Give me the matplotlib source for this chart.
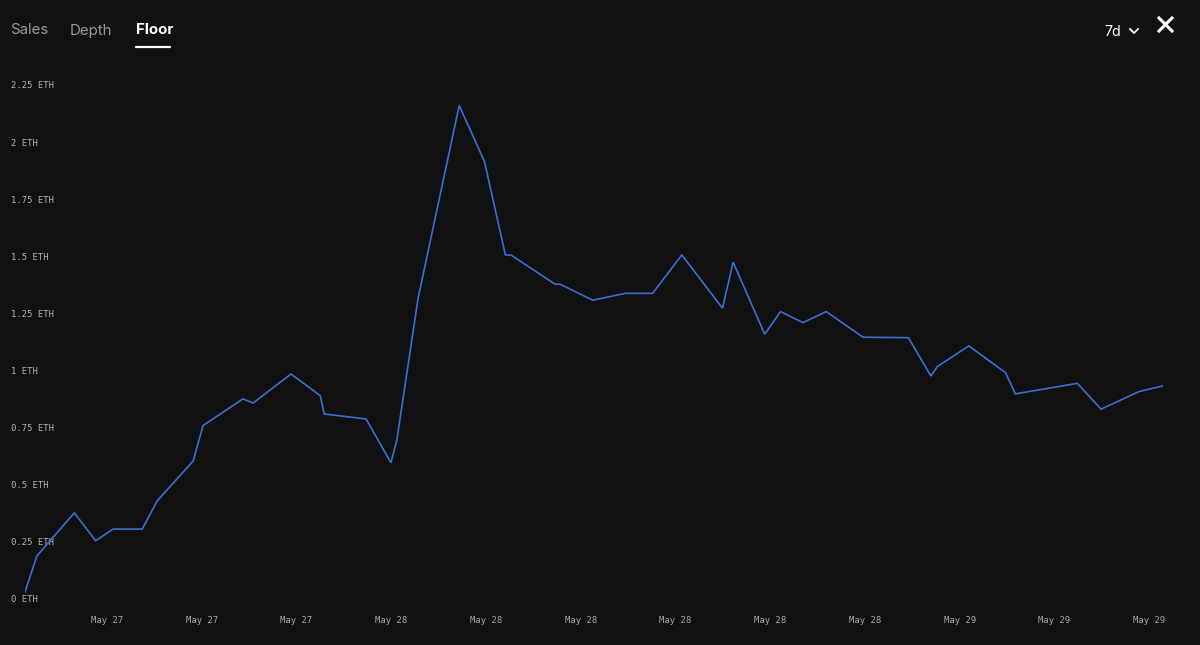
import pandas as pd
import matplotlib.pyplot as plt
import matplotlib.dates as mdates
from matplotlib.lines import Line2D

# floor price samples (time, ETH)
times = ["2022-05-27 08:32", "2022-05-27 09:02", "2022-05-27 09:35", "2022-05-27 10:37",
         "2022-05-27 11:31", "2022-05-27 12:15", "2022-05-27 13:29", "2022-05-27 14:07",
         "2022-05-27 15:38", "2022-05-27 16:03", "2022-05-27 17:44", "2022-05-27 18:10",
         "2022-05-27 19:46", "2022-05-27 21:00", "2022-05-27 21:10", "2022-05-27 22:56",
         "2022-05-27 23:59", "2022-05-28 00:14", "2022-05-28 01:08", "2022-05-28 02:52",
         "2022-05-28 03:56", "2022-05-28 04:49", "2022-05-28 05:03", "2022-05-28 06:55",
         "2022-05-28 07:08", "2022-05-28 08:30", "2022-05-28 09:53", "2022-05-28 11:02",
         "2022-05-28 12:16", "2022-05-28 13:59", "2022-05-28 14:26", "2022-05-28 15:46",
         "2022-05-28 16:26", "2022-05-28 17:23", "2022-05-28 18:22", "2022-05-28 19:55",
         "2022-05-28 21:50", "2022-05-28 22:47", "2022-05-28 23:03", "2022-05-29 00:23",
         "2022-05-29 01:56", "2022-05-29 02:21", "2022-05-29 04:58", "2022-05-29 05:58",
         "2022-05-29 07:34", "2022-05-29 08:35"]
floor = [0.031, 0.188, 0.254, 0.377, 0.255, 0.306, 0.306, 0.430,
         0.604, 0.759, 0.876, 0.858, 0.985, 0.890, 0.810, 0.788,
         0.597, 0.696, 1.318, 2.160, 1.915, 1.506, 1.506, 1.378,
         1.378, 1.308, 1.338, 1.338, 1.506, 1.273, 1.474, 1.159,
         1.258, 1.210, 1.258, 1.146, 1.144, 0.976, 1.017, 1.108,
         0.991, 0.898, 0.944, 0.831, 0.908, 0.933]

y_ticks = [0, 0.25, 0.5, 0.75, 1, 1.25, 1.5, 1.75, 2, 2.25]
y_labels = ["0 ETH", "0.25 ETH", "0.5 ETH", "0.75 ETH", "1 ETH", "1.25 ETH",
            "1.5 ETH", "1.75 ETH", "2 ETH", "2.25 ETH"]
tabs = ["Sales", "Depth", "Floor"]

bg = "#111111"
W, H = 1200, 645


def fx(px):
    return px / W


def fy(py):
    return 1 - py / H


t = pd.to_datetime(times)

fig = plt.figure(figsize=(12, 6.45), dpi=100, facecolor=bg)
ax = fig.add_axes([fx(25), fy(599), fx(1163) - fx(25), fy(85) - fy(599)])
ax.set_facecolor(bg)
ax.plot(t, floor, color="#3C6FD6", linewidth=1.2, solid_joinstyle="miter")

ax.set_xlim(t[0], t[-1])
ax.set_ylim(0, 2.25)
for s in ax.spines.values():
    s.set_visible(False)

ax.set_yticks(y_ticks)
ax.set_yticklabels(y_labels, family="DejaVu Sans Mono", fontsize=6.4, color="#b5b5b5")
ax.tick_params(axis="y", length=0, pad=10)
for lab in ax.get_yticklabels():
    lab.set_horizontalalignment("left")

ax.xaxis.set_major_locator(mdates.HourLocator(byhour=[0, 4, 8, 12, 16, 20]))
ax.xaxis.set_major_formatter(mdates.DateFormatter("%b %d"))
ax.tick_params(axis="x", length=0, pad=12.5, labelsize=6.4, labelcolor="#aaaaaa")
for lab in ax.get_xticklabels():
    lab.set_family("DejaVu Sans Mono")

# header tabs
tab_x = [10, 70, 136]
for name, x in zip(tabs, tab_x):
    active = name == "Floor"
    fig.text(fx(x), fy(30.5), name, fontsize=10.8, family="Inter",
             color="white" if active else "#9a9a9a",
             fontweight="bold" if active else "normal", va="center", ha="left")
fig.add_artist(Line2D([fx(136), fx(170)], [fy(46.5), fy(46.5)], color="white",
                      linewidth=1.6, solid_capstyle="round"))

# range selector and close button
fig.text(fx(1104), fy(31.5), "7d", fontsize=10.3, family="Inter", color="white",
         va="center", ha="left")
fig.add_artist(Line2D([fx(1130), fx(1134), fx(1138)], [fy(29), fy(33), fy(29)],
                      color="white", linewidth=1.3))
fig.add_artist(Line2D([fx(1159), fx(1172)], [fy(18), fy(31)], color="white", linewidth=2.2))
fig.add_artist(Line2D([fx(1159), fx(1172)], [fy(31), fy(18)], color="white", linewidth=2.2))

fig.savefig("out.png", dpi=100, facecolor=bg)
